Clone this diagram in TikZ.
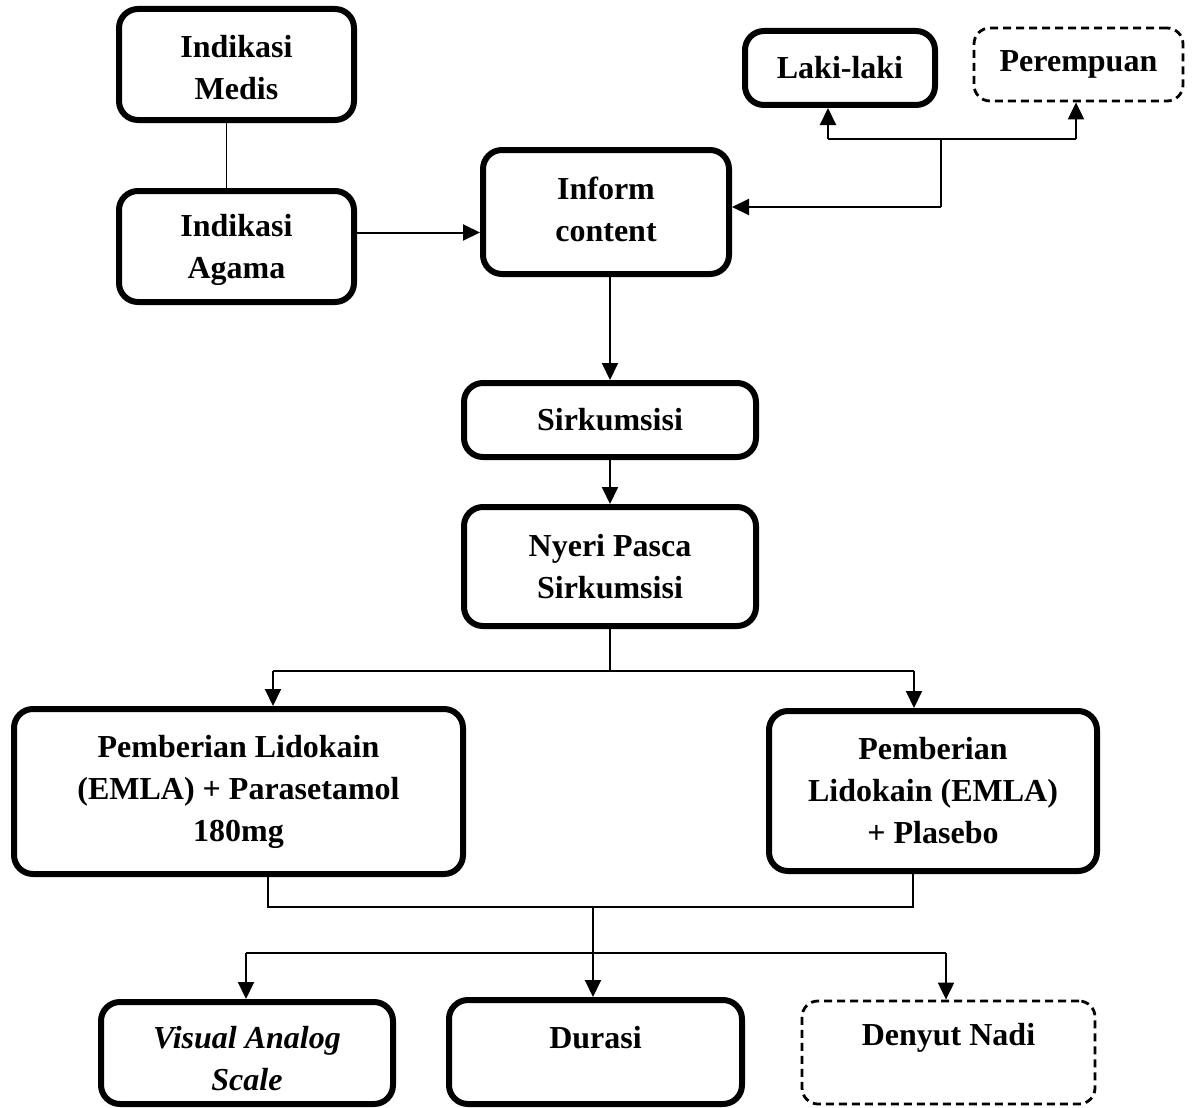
\documentclass[tikz,border=0pt]{standalone}
\usepackage{fontspec}
\setmainfont{Liberation Serif}
\usetikzlibrary{arrows.meta}
\begin{document}
\begin{tikzpicture}[x=1pt,y=-1pt,
 box/.style={draw, line width=6pt, rounded corners=19pt, align=center,
   font=\fontsize{32}{42}\selectfont\bfseries, inner sep=0pt},
 dbox/.style={box, line width=2.8pt, dash pattern=on 8pt off 5pt, rounded corners=16pt},
 txt/.style={align=center, font=\fontsize{32}{42}\selectfont\bfseries, inner sep=0pt},
 arr/.style={line width=2pt, -{Triangle[length=17pt,width=16pt]}},
 ln/.style={line width=1.6pt}]
\useasboundingbox[fill=white] (0,0) rectangle (1195,1108);

% boxes
\node[box, minimum width=235pt, minimum height=111pt] (medis) at (236.5,64.5) {};
\node[box, minimum width=235pt, minimum height=111pt] (agama) at (236.5,246.5) {};
\node[txt] (medistxt) at (236.5,68) {Indikasi\\Medis};
\node[txt] (agamatxt) at (236.5,250) {Indikasi\\Agama};
\node[box, minimum width=246pt, minimum height=124pt] (inform) at (606,212) {};
\node[txt] (informtxt) at (606,209) {Inform\\content};
\node[box, minimum width=190pt, minimum height=74pt] (laki) at (840,68) {Laki-laki};
\node[dbox, minimum width=209pt, minimum height=73pt] (perempuan) at (1078.5,64.5) {Perempuan};
\node[box, minimum width=292pt, minimum height=74pt] (sirkum) at (610,420) {Sirkumsisi};
\node[box, minimum width=292pt, minimum height=119pt] (nyeri) at (610,566.5) {Nyeri Pasca\\Sirkumsisi};
\node[box, minimum width=449pt, minimum height=165pt] (left) at (238.5,791.5) {Pemberian Lidokain\\(EMLA) + Parasetamol\\180mg};
\node[box, minimum width=328pt, minimum height=160pt] (right) at (933,791) {Pemberian\\Lidokain (EMLA)\\+ Plasebo};
\node[box, minimum width=292pt, minimum height=102pt] (vas) at (247,1053) {};
\node[box, minimum width=293pt, minimum height=104pt] (durasi) at (595.5,1052) {};
\node[dbox, minimum width=293pt, minimum height=103pt] (denyut) at (948.5,1052.5) {};
\node[txt, font=\fontsize{32}{42}\selectfont\bfseries\itshape] (vastxt) at (247,1059) {Visual Analog\\Scale};
\node[txt] (durtxt) at (595.5,1038) {Durasi};
\node[txt] (dentxt) at (948.5,1038) {Denyut Nadi};

% coordinates
\coordinate (j1) at (941,207);
\coordinate (j2) at (941,139);
\coordinate (lk) at (828,139);
\coordinate (pr) at (1076,139);
\coordinate (bl) at (273,671);
\coordinate (br) at (914,671);
\coordinate (ml) at (268,907);
\coordinate (mr) at (913,907);
\coordinate (mc) at (593,907);
\coordinate (ll) at (246,953);
\coordinate (lc) at (593,953);
\coordinate (lr) at (946,953);

% connectors
\draw[ln] ([xshift=-10pt]medis.south) -- ([xshift=-10pt]agama.north);
\draw[arr] ([yshift=14pt]agama.east) -- ([yshift=14pt]agama.east -| inform.west);
\draw[arr] (j1) -- (j1 -| inform.east);
\draw[ln] (j1) -- (j2);
\draw[ln] (lk) -- (pr);
\draw[arr] (lk) -- (lk |- laki.south);
\draw[arr] (pr) -- (pr |- perempuan.south);
\draw[arr] (sirkum.north |- inform.south) -- (sirkum.north);
\draw[arr] (sirkum.south) -- (nyeri.north);
\draw[ln] (nyeri.south) -- (nyeri.south |- bl);
\draw[line width=2pt] (bl) -- (br);
\draw[arr] (bl) -- (bl |- left.north);
\draw[arr] (br) -- (br |- right.north);
\draw[ln] (ml |- left.south) -- (ml) -- (mr) -- (mr |- right.south);
\draw[ln] (mc) -- (lc);
\draw[line width=2pt] (ll) -- (lr);
\draw[arr] (ll) -- (ll |- vas.north);
\draw[arr] (lc) -- (lc |- durasi.north);
\draw[arr] (lr) -- (lr |- denyut.north);
\end{tikzpicture}
\end{document}
